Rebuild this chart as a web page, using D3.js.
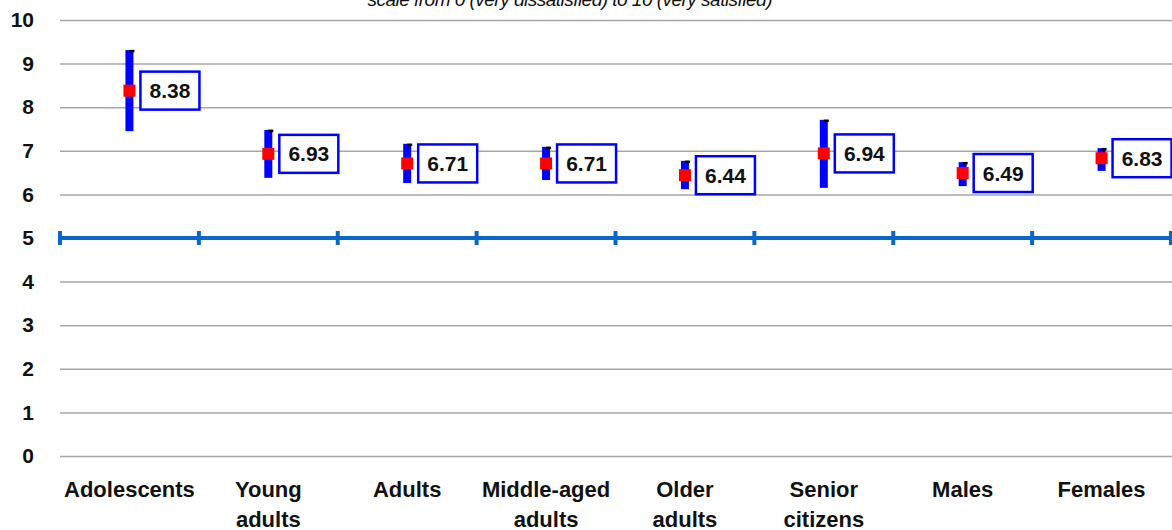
<!DOCTYPE html>
<html>
<head>
<meta charset="utf-8">
<script src="https://cdn.jsdelivr.net/npm/d3@7"></script>
<style>
  body { margin: 0; background: #fff; }
  svg { display: block; font-family: "Liberation Sans", Arial, sans-serif; }
</style>
</head>
<body>
<svg id="chart" width="1172" height="530"></svg>
<script>
// chart values
var categories = ["Adolescents", "Young adults", "Adults", "Middle-aged adults", "Older adults", "Senior citizens", "Males", "Females"];
var means = [8.38, 6.93, 6.71, 6.71, 6.44, 6.94, 6.49, 6.83];
var upper = [9.31, 7.48, 7.16, 7.09, 6.77, 7.71, 6.74, 7.06];
var lower = [7.45, 6.38, 6.26, 6.33, 6.12, 6.15, 6.19, 6.54];
var yTicks = [0, 1, 2, 3, 4, 5, 6, 7, 8, 9, 10];
var refValue = 5;
var titleText = "scale from 0 (very dissatisfied) to 10 (very satisfied)";

var svg = d3.select("#chart");

var plotLeft = 60, plotRight = 1171, plotTop = 20, plotBottom = 456;

var x = d3.scaleBand()
    .domain(categories)
    .range([plotLeft, plotRight])
    .padding(0);

var y = d3.scaleLinear()
    .domain([0, 10])
    .range([plotBottom, plotTop]);

// title (cut off at top, like the source)
svg.append("text")
    .attr("x", 570)
    .attr("y", 6)
    .attr("text-anchor", "middle")
    .attr("font-style", "italic")
    .attr("font-size", 19)
    .attr("textLength", 405)
    .attr("fill", "#111")
    .text(titleText);

// y axis with gridlines
var yAxis = svg.append("g")
    .attr("transform", "translate(" + plotLeft + ",0)")
    .call(d3.axisLeft(y).tickValues(yTicks).tickSize(-(1172 - plotLeft)).tickPadding(26).tickFormat(d3.format("d")));

yAxis.select(".domain").remove();
yAxis.selectAll(".tick line")
    .attr("stroke", "#a6a6a6")
    .attr("stroke-width", 1.5);
yAxis.selectAll(".tick text")
    .attr("font-size", 21)
    .attr("font-weight", "bold")
    .attr("fill", "#111")
    .attr("font-family", "Liberation Sans, Arial, sans-serif");

// x axis labels
var xAxis = svg.append("g")
    .attr("transform", "translate(0," + plotBottom + ")")
    .call(d3.axisBottom(x).tickSize(0).tickFormat(""));
xAxis.select(".domain").remove();

xAxis.selectAll(".tick").each(function (d) {
    var t = d3.select(this).append("text")
        .attr("text-anchor", "middle")
        .attr("font-size", 22)
        .attr("font-weight", "bold")
        .attr("fill", "#111")
        .attr("font-family", "Liberation Sans, Arial, sans-serif");
    d.split(" ").forEach(function (w, i) {
        t.append("tspan")
            .attr("x", 0)
            .attr("y", 41 + i * 30)
            .text(w);
    });
});

// reference line at 5
svg.append("line")
    .attr("x1", plotLeft)
    .attr("x2", 1172)
    .attr("y1", y(refValue))
    .attr("y2", y(refValue))
    .attr("stroke", "#0a66c8")
    .attr("stroke-width", 4);

var bounds = categories.map(function (c) { return x(c); }).concat([plotRight]);
svg.selectAll(".reftick")
    .data(bounds)
    .enter().append("line")
    .attr("class", "reftick")
    .attr("x1", function (d) { return d; })
    .attr("x2", function (d) { return d; })
    .attr("y1", y(refValue) - 7)
    .attr("y2", y(refValue) + 7)
    .attr("stroke", "#0a66c8")
    .attr("stroke-width", 4);

// error bars, means and labels
categories.forEach(function (c, i) {
    var cx = x(c) + x.bandwidth() / 2;

    svg.append("rect")
        .attr("x", cx - 4)
        .attr("y", y(upper[i]))
        .attr("width", 8)
        .attr("height", y(lower[i]) - y(upper[i]))
        .attr("fill", "#0000ff");

    svg.append("line")
        .attr("x1", cx)
        .attr("x2", cx + 5)
        .attr("y1", y(upper[i]) + 1)
        .attr("y2", y(upper[i]) + 1)
        .attr("stroke", "#000")
        .attr("stroke-width", 2.5);

    svg.append("rect")
        .attr("x", cx - 6)
        .attr("y", y(means[i]) - 6)
        .attr("width", 12)
        .attr("height", 12)
        .attr("fill", "#ff0000");

    svg.append("rect")
        .attr("x", cx + 11)
        .attr("y", y(means[i]) - 19)
        .attr("width", 59)
        .attr("height", 38)
        .attr("fill", "#fff")
        .attr("stroke", "#0000ff")
        .attr("stroke-width", 2.5);

    svg.append("text")
        .attr("x", cx + 11 + 29.5)
        .attr("y", y(means[i]) + 7.5)
        .attr("text-anchor", "middle")
        .attr("font-size", 21)
        .attr("font-weight", "bold")
        .attr("fill", "#111")
        .text(means[i].toFixed(2));
});
</script>
</body>
</html>
